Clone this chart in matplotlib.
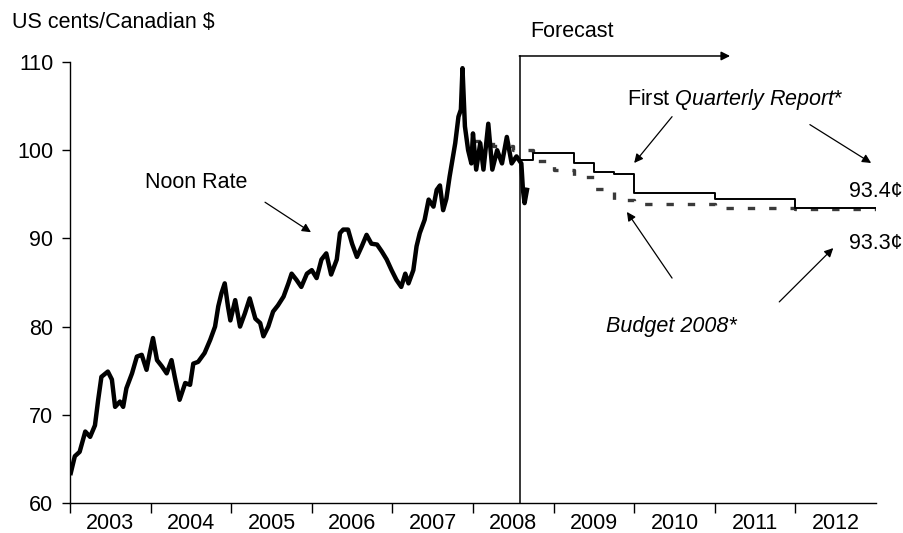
import matplotlib
matplotlib.use('Agg')
import matplotlib.pyplot as plt

plt.rcParams['font.family'] = ['Liberation Sans', 'DejaVu Sans']
plt.rcParams['mathtext.fontset'] = 'custom'
plt.rcParams['mathtext.rm'] = 'Liberation Sans'
plt.rcParams['mathtext.it'] = 'Liberation Sans:italic'

# Noon rate (year fraction, US cents per C$)
noon_years = [2003.01, 2003.06, 2003.12, 2003.19, 2003.25, 2003.31, 2003.35, 2003.39, 2003.47,
              2003.52, 2003.56, 2003.62, 2003.66, 2003.70, 2003.77, 2003.83, 2003.89, 2003.95,
              2003.99, 2004.03, 2004.08, 2004.14, 2004.20, 2004.26, 2004.30, 2004.36, 2004.43,
              2004.49, 2004.53, 2004.59, 2004.67, 2004.74, 2004.80, 2004.84, 2004.88, 2004.92,
              2004.96, 2004.99, 2005.05, 2005.11, 2005.17, 2005.23, 2005.30, 2005.36, 2005.40,
              2005.46, 2005.52, 2005.58, 2005.65, 2005.71, 2005.75, 2005.81, 2005.87, 2005.94,
              2006.00, 2006.06, 2006.12, 2006.18, 2006.24, 2006.31, 2006.35, 2006.39, 2006.45,
              2006.50, 2006.56, 2006.62, 2006.68, 2006.74, 2006.81, 2006.87, 2006.93, 2006.99,
              2007.05, 2007.11, 2007.16, 2007.20, 2007.26, 2007.30, 2007.34, 2007.40, 2007.45,
              2007.51, 2007.55, 2007.59, 2007.63, 2007.67, 2007.71, 2007.78, 2007.82, 2007.85,
              2007.87, 2007.90, 2007.94, 2007.98, 2008.00, 2008.04, 2008.09, 2008.13, 2008.19,
              2008.24, 2008.30, 2008.36, 2008.42, 2008.48, 2008.54, 2008.60, 2008.62, 2008.64,
              2008.67]
noon_rate = [63.4, 65.3, 65.8, 68.1, 67.5, 68.8, 71.7, 74.3, 74.9,
             74.0, 70.9, 71.5, 70.9, 73.0, 74.7, 76.6, 76.8, 75.1,
             77.0, 78.7, 76.2, 75.5, 74.7, 76.2, 74.3, 71.7, 73.6,
             73.4, 75.8, 76.0, 77.0, 78.5, 80.0, 82.3, 83.8, 84.9,
             82.3, 80.7, 83.0, 80.0, 81.5, 83.2, 80.9, 80.4, 78.9,
             80.0, 81.7, 82.4, 83.4, 84.9, 86.0, 85.3, 84.5, 86.0,
             86.4, 85.5, 87.6, 88.3, 85.9, 87.6, 90.6, 91.0, 91.0,
             89.4, 87.9, 89.1, 90.4, 89.4, 89.3, 88.5, 87.6, 86.4,
             85.3, 84.5, 86.0, 84.9, 86.4, 89.1, 90.6, 92.1, 94.4,
             93.6, 95.5, 96.0, 93.2, 94.5, 97.0, 100.8, 103.8, 104.6,
             109.3, 102.7, 100.0, 98.5, 101.9, 97.8, 100.8, 97.8, 103.0,
             97.8, 100.0, 98.5, 101.5, 98.5, 99.3, 98.5, 95.5, 94.0,
             95.5]

# First Quarterly Report forecast (step edges)
fqr_years = [2008.585, 2008.75, 2009.0, 2009.25, 2009.5, 2009.75, 2010.0, 2011.0, 2012.0, 2013.0]
fqr_rate = [98.9, 99.7, 99.65, 98.6, 97.5, 97.3, 95.2, 94.5, 93.4, 93.4]

# Budget 2008 forecast (step edges)
budget_years = [2008.0, 2008.25, 2008.5, 2008.75, 2009.0, 2009.25, 2009.5, 2009.75,
                2010.0, 2011.0, 2012.0, 2013.0]
budget_rate = [101.0, 100.5, 100.0, 98.8, 97.8, 97.0, 95.6, 94.3, 93.95, 93.5, 93.3, 93.3]

year_labels = ['2003', '2004', '2005', '2006', '2007', '2008', '2009', '2010', '2011', '2012']
forecast_start = 2008.585
fs = 15.5

fig = plt.figure(figsize=(9.04, 5.33), dpi=100)
ax = fig.add_axes([0.0774, 0.0563, 0.8916, 0.8274])

ax.plot(budget_years, budget_rate, drawstyle='steps-post', color='#3a3a3a', lw=2.4,
        dashes=(2.2, 4.2), zorder=2)
ax.plot(noon_years, noon_rate, color='black', lw=3.2, zorder=3)
ax.plot(fqr_years, fqr_rate, drawstyle='steps-post', color='black', lw=1.4, zorder=4)

ax.set_xlim(2003, 2013)
ax.set_ylim(60, 110)
for side in ['top', 'right']:
    ax.spines[side].set_visible(False)
ax.spines['left'].set_linewidth(1.0)
ax.spines['bottom'].set_linewidth(1.0)

ax.set_yticks([60, 70, 80, 90, 100, 110])
ax.tick_params(axis='y', direction='out', length=6, width=1, labelsize=fs, pad=6)
ax.set_xticks([y + 0.5 for y in range(2003, 2013)])
ax.set_xticklabels(year_labels)
ax.set_xticks(list(range(2003, 2013)), minor=True)
ax.tick_params(axis='x', which='major', length=0, labelsize=fs, pad=7)
ax.tick_params(axis='x', which='minor', direction='out', length=7, width=1)

# forecast marker
ax.plot([forecast_start, forecast_start], [60, 110.68], color='black', lw=1.1, clip_on=False)
ax.annotate('', xy=(2011.19, 110.68), xytext=(forecast_start - 0.01, 110.68),
            arrowprops=dict(arrowstyle='-|>', color='black', lw=1.1, mutation_scale=13,
                            shrinkA=0, shrinkB=0), annotation_clip=False)
ax.text(2008.71, 113.4, 'Forecast', fontsize=fs, ha='left', va='center')

fig.text(12 / 904, 1 - 22 / 533, 'US cents/Canadian $', fontsize=fs, ha='left', va='center')

arrow = dict(arrowstyle='-|>', color='black', lw=0.9, mutation_scale=13, shrinkA=0, shrinkB=0)

ax.text(2004.56, 96.3, 'Noon Rate', fontsize=fs, ha='center', va='center')
ax.annotate('', xy=(2005.99, 90.7), xytext=(2005.42, 94.1), arrowprops=arrow)

ax.text(2011.25, 105.8, 'First $\\it{Quarterly\\ Report}$*', fontsize=fs, ha='center', va='center')
ax.annotate('', xy=(2010.0, 98.55), xytext=(2010.47, 103.8), arrowprops=arrow)
ax.annotate('', xy=(2012.94, 98.55), xytext=(2012.18, 102.9), arrowprops=arrow,
            annotation_clip=False)

ax.text(2010.46, 80.0, 'Budget 2008*', fontsize=fs, style='italic', ha='center', va='center')
ax.annotate('', xy=(2009.91, 93.0), xytext=(2010.47, 85.5), arrowprops=arrow)
ax.annotate('', xy=(2012.47, 88.9), xytext=(2011.80, 82.8), arrowprops=arrow)

ax.text(2013.33, 95.3, '93.4¢', fontsize=fs, ha='right', va='center')
ax.text(2013.33, 89.4, '93.3¢', fontsize=fs, ha='right', va='center')

fig.savefig('out.png', dpi=100)
